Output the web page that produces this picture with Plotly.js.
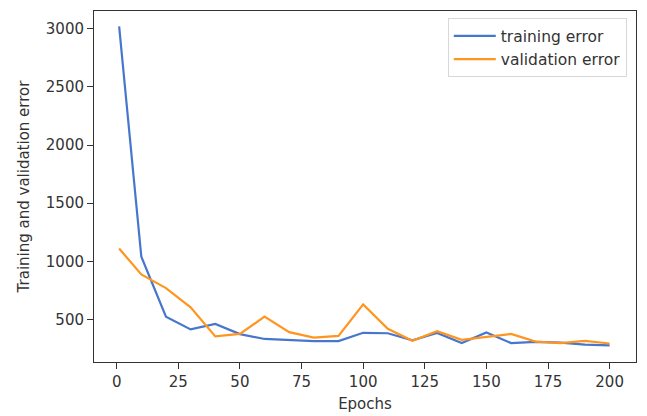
<!DOCTYPE html>
<html>
<head>
<meta charset="utf-8">
<script src="https://cdn.plot.ly/plotly-3.0.1.min.js"></script>
<style>html,body{margin:0;padding:0;background:#fff;}#chart{width:647px;height:416px;}</style>
</head>
<body>
<div id="chart"></div>
<script>
const epochs = [1, 10, 20, 30, 40, 50, 60, 70, 80, 90, 100, 110, 120, 130, 140, 150, 160, 170, 180, 190, 200];
const trainingError = [3020, 1040, 525, 415, 462, 375, 333, 325, 315, 315, 386, 382, 322, 384, 298, 388, 298, 308, 302, 285, 278];
const validationError = [1110, 888, 770, 605, 355, 376, 525, 392, 345, 360, 630, 420, 318, 400, 325, 350, 376, 310, 298, 316, 294];
const xTicks = [0, 25, 50, 75, 100, 125, 150, 175, 200];
const yTicks = [500, 1000, 1500, 2000, 2500, 3000];
const seriesNames = ['training error', 'validation error'];

const font = {family: 'DejaVu Sans', size: 15, color: '#333'};

const data = [
  {x: epochs, y: trainingError, name: seriesNames[0], type: 'scatter', mode: 'lines',
   line: {color: '#4677cc', width: 2.2}},
  {x: epochs, y: validationError, name: seriesNames[1], type: 'scatter', mode: 'lines',
   line: {color: '#ff951f', width: 2.2}}
];

const layout = {
  width: 647, height: 416,
  margin: {l: 94, r: 11, t: 11, b: 54},
  paper_bgcolor: '#fff', plot_bgcolor: '#fff',
  font: font,
  showlegend: true,
  legend: {
    x: 0.983, xanchor: 'right', y: 0.979, yanchor: 'top',
    bordercolor: '#d8d8d8', borderwidth: 1, bgcolor: 'rgba(255,255,255,0.8)',
    font: {family: 'DejaVu Sans', size: 15.5, color: '#333'}, itemwidth: 42
  },
  xaxis: {
    range: [-9.2, 210.7],
    tickvals: xTicks, ticktext: xTicks.map(String),
    ticks: 'outside', ticklen: 6, tickwidth: 1, tickcolor: '#333',
    showgrid: false, zeroline: false,
    showline: true, linecolor: '#333', linewidth: 1, mirror: true,
    tickfont: font,
    title: {text: 'Epochs', font: font, standoff: 8}
  },
  yaxis: {
    range: [135, 3152],
    tickvals: yTicks, ticktext: yTicks.map(String),
    ticks: 'outside', ticklen: 6, tickwidth: 1, tickcolor: '#333',
    showgrid: false, zeroline: false,
    showline: true, linecolor: '#333', linewidth: 1, mirror: true,
    tickfont: font,
    title: {text: 'Training and validation error', font: font, standoff: 12}
  }
};

Plotly.newPlot('chart', data, layout, {displayModeBar: false, staticPlot: true});
</script>
</body>
</html>
